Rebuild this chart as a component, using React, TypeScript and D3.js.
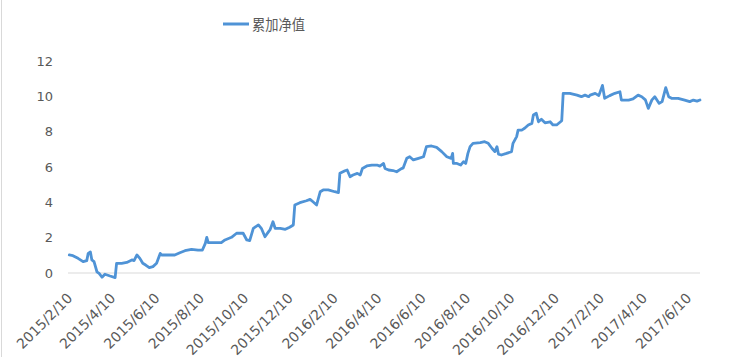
import React from "react";
import * as d3 from "d3";

const W = 732;
const H = 357;

const seriesName = "累加净值";

const dates: string[] = [
  "2015-02-10","2015-02-15","2015-02-22","2015-03-01","2015-03-06","2015-03-08","2015-03-11","2015-03-13","2015-03-16","2015-03-20",
  "2015-03-23","2015-03-27","2015-03-31","2015-04-07","2015-04-14","2015-04-16","2015-04-23","2015-04-30","2015-05-07","2015-05-10",
  "2015-05-14","2015-05-18","2015-05-22","2015-05-26","2015-05-31","2015-06-05","2015-06-10","2015-06-15","2015-06-17","2015-06-24",
  "2015-07-05","2015-07-12","2015-07-19","2015-07-28","2015-08-06","2015-08-12","2015-08-16","2015-08-18","2015-08-20","2015-08-29",
  "2015-09-07","2015-09-12","2015-09-21","2015-09-28","2015-10-07","2015-10-12","2015-10-16","2015-10-21","2015-10-28","2015-11-01",
  "2015-11-06","2015-11-11","2015-11-13","2015-11-17","2015-11-20","2015-11-27","2015-12-04","2015-12-10","2015-12-15","2015-12-17",
  "2015-12-24","2016-01-02","2016-01-07","2016-01-11","2016-01-16","2016-01-21","2016-01-25","2016-02-01","2016-02-10","2016-02-15",
  "2016-02-17","2016-02-24","2016-02-27","2016-03-02","2016-03-06","2016-03-12","2016-03-16","2016-03-19","2016-03-25","2016-04-01",
  "2016-04-08","2016-04-12","2016-04-17","2016-04-19","2016-04-24","2016-04-30","2016-05-05","2016-05-10","2016-05-14","2016-05-19",
  "2016-05-23","2016-05-28","2016-06-04","2016-06-11","2016-06-15","2016-06-22","2016-06-29","2016-07-06","2016-07-13","2016-07-19",
  "2016-07-21","2016-07-22","2016-07-27","2016-08-01","2016-08-05","2016-08-08","2016-08-11","2016-08-14","2016-08-18","2016-08-28",
  "2016-09-03","2016-09-08","2016-09-13","2016-09-17","2016-09-20","2016-09-22","2016-09-26","2016-10-03","2016-10-10","2016-10-12",
  "2016-10-17","2016-10-19","2016-10-24","2016-10-28","2016-11-02","2016-11-07","2016-11-09","2016-11-13","2016-11-16","2016-11-20",
  "2016-11-25","2016-12-02","2016-12-06","2016-12-11","2016-12-18","2016-12-20","2016-12-29","2017-01-08","2017-01-14","2017-01-19",
  "2017-01-24","2017-01-26","2017-02-02","2017-02-07","2017-02-12","2017-02-15","2017-02-22","2017-03-01","2017-03-08","2017-03-10",
  "2017-03-20","2017-03-26","2017-04-02","2017-04-07","2017-04-12","2017-04-16","2017-04-21","2017-04-25","2017-05-01","2017-05-05",
  "2017-05-10","2017-05-14","2017-05-18","2017-05-27","2017-06-05","2017-06-12","2017-06-17","2017-06-22","2017-06-26"
];

const navValues: number[] = [
  1.02,0.98,0.83,0.64,0.70,1.11,1.19,0.74,0.64,0.07,
  -0.02,-0.24,-0.07,-0.17,-0.26,0.55,0.55,0.60,0.74,0.70,
  1.02,0.83,0.55,0.45,0.30,0.36,0.55,1.11,1.02,1.02,
  1.02,1.15,1.26,1.34,1.30,1.30,1.68,2.02,1.72,1.72,
  1.72,1.87,2.02,2.25,2.25,1.87,1.83,2.53,2.72,2.53,
  2.05,2.34,2.45,2.90,2.53,2.53,2.47,2.59,2.72,3.85,
  3.98,4.09,4.17,4.03,3.85,4.60,4.70,4.70,4.60,4.55,
  5.64,5.79,5.83,5.45,5.55,5.64,5.55,5.92,6.06,6.11,
  6.11,6.05,6.20,5.92,5.83,5.80,5.73,5.87,5.95,6.49,
  6.58,6.40,6.49,6.58,7.15,7.19,7.11,6.87,6.58,6.49,
  6.77,6.20,6.20,6.11,6.30,6.20,6.77,7.15,7.34,7.38,
  7.43,7.34,7.06,6.87,7.15,6.73,6.68,6.77,6.87,7.34,
  7.72,8.09,8.09,8.19,8.38,8.47,8.94,9.04,8.56,8.70,
  8.50,8.56,8.38,8.38,8.62,10.17,10.17,10.07,9.98,10.07,
  9.98,10.07,10.17,10.04,10.62,9.89,10.04,10.17,10.26,9.79,
  9.79,9.85,10.07,9.98,9.80,9.32,9.80,9.98,9.60,9.70,
  10.49,9.98,9.89,9.89,9.79,9.70,9.79,9.73,9.79
];

const xTickDates: string[] = [
  "2015-02-10","2015-04-10","2015-06-10","2015-08-10","2015-10-10","2015-12-10",
  "2016-02-10","2016-04-10","2016-06-10","2016-08-10","2016-10-10","2016-12-10",
  "2017-02-10","2017-04-10","2017-06-10"
];

const yTicks: number[] = [0, 2, 4, 6, 8, 10, 12];

const parse = d3.timeParse("%Y-%m-%d");
const fmt = (d: Date) => `${d.getFullYear()}/${d.getMonth() + 1}/${d.getDate()}`;

const BLUE = "#4f93d6";
const GRAY_TEXT = "#595959";

export default function App() {
  const x = d3
    .scaleTime()
    .domain([parse(xTickDates[0])!, parse(xTickDates[xTickDates.length - 1])!])
    .range([69.3, 688.3]);
  const y = d3.scaleLinear().domain([0, 12]).range([273, 61]);

  const data = dates.map((d, i) => ({ date: parse(d)!, v: navValues[i] }));
  const line = d3
    .line<{ date: Date; v: number }>()
    .x((d) => x(d.date))
    .y((d) => y(d.v));

  return (
    <svg
      width={W}
      height={H}
      style={{ position: "absolute", left: 0, top: 0, background: "#fff" }}
      fontFamily="'DejaVu Sans', sans-serif"
    >
      <rect x={0} y={0} width={W} height={H} fill="#fff" />
      <line x1={1.5} x2={1.5} y1={0} y2={H} stroke="#d9d9d9" strokeWidth={1} />

      {/* legend */}
      <line x1={223} x2={249} y1={24} y2={24} stroke={BLUE} strokeWidth={3} />
      <text
        x={252}
        y={29.5}
        fontSize={15}
        fill={GRAY_TEXT}
        fontFamily="'Noto Sans CJK SC', sans-serif"
        textLength={53}
        lengthAdjust="spacingAndGlyphs"
      >
        {seriesName}
      </text>

      {/* y labels */}
      {yTicks.map((t) => (
        <text
          key={t}
          x={53}
          y={y(t)}
          dy="0.36em"
          textAnchor="end"
          fontSize={13}
          fill={GRAY_TEXT}
        >
          {t}
        </text>
      ))}

      {/* zero axis line */}
      <line x1={68} x2={700} y1={y(0)} y2={y(0)} stroke="#d9d9d9" strokeWidth={1} />

      {/* x labels */}
      {xTickDates.map((s) => {
        const d = parse(s)!;
        const tx = x(d) - 3;
        return (
          <text
            key={s}
            transform={`translate(${tx},292) rotate(-45)`}
            textAnchor="end"
            dy="0.71em"
            fontSize={14}
            fill={GRAY_TEXT}
          >
            {fmt(d)}
          </text>
        );
      })}

      <path
        d={line(data) ?? ""}
        fill="none"
        stroke={BLUE}
        strokeWidth={2.8}
        strokeLinejoin="round"
        strokeLinecap="round"
      />
    </svg>
  );
}
